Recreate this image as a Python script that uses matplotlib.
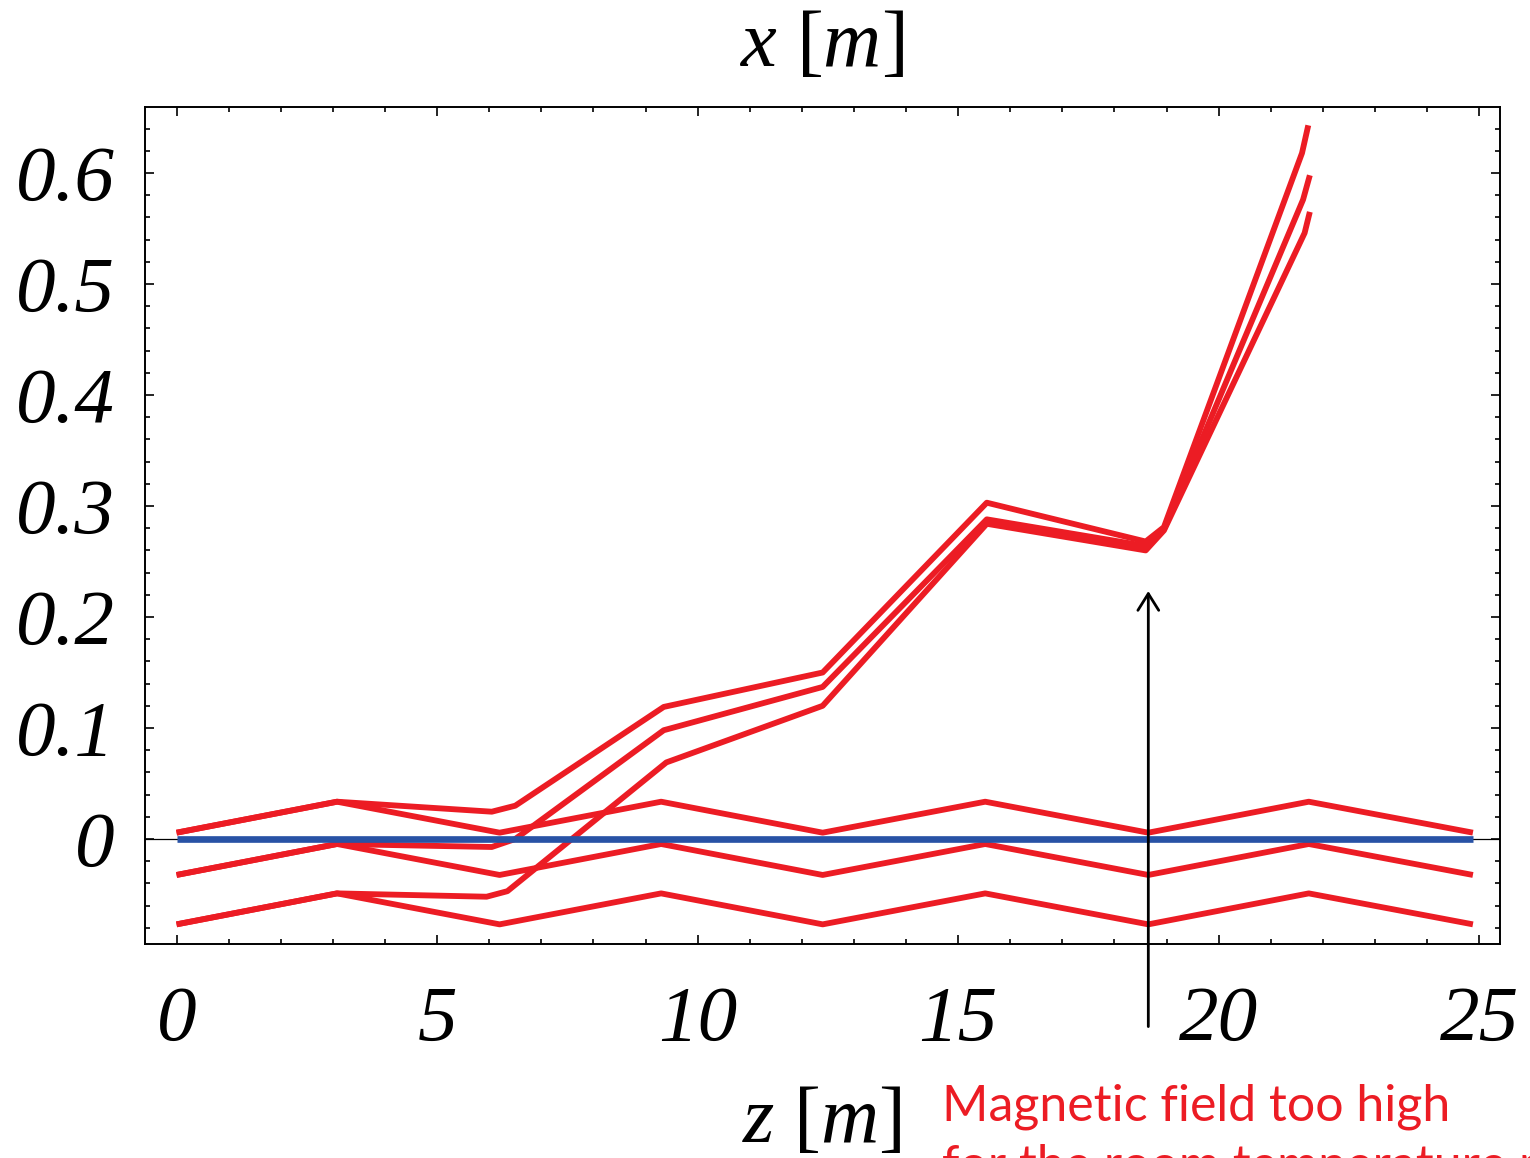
import matplotlib
matplotlib.use("Agg")
import matplotlib.pyplot as plt
from matplotlib.ticker import FixedLocator, FixedFormatter, MultipleLocator

plt.rcParams["mathtext.fontset"] = "custom"
plt.rcParams["mathtext.it"] = "Liberation Serif:italic"
plt.rcParams["mathtext.rm"] = "Liberation Serif"

# --- data ---
# reference (on-axis) trajectories: vertices at the quadrupoles
z_ref = [0.0, 3.08, 6.2, 9.3, 12.4, 15.52, 18.65, 21.73, 24.88]
x_ref_a = [0.0057, 0.0336, 0.0057, 0.0336, 0.0057, 0.0336, 0.0057, 0.0336, 0.0057]
x_ref_b = [-0.0324, -0.0045, -0.0324, -0.0045, -0.0324, -0.0045, -0.0324, -0.0045, -0.0324]
x_ref_c = [-0.0769, -0.049, -0.0769, -0.049, -0.0769, -0.049, -0.0769, -0.049, -0.0769]

# trajectories that get kicked away
z_kick_a = [0.0, 3.08, 6.05, 6.5, 9.35, 12.4, 15.55, 18.6, 18.95, 21.6, 21.72]
x_kick_a = [0.0057, 0.0336, 0.0246, 0.030, 0.119, 0.150, 0.303, 0.268, 0.281, 0.618, 0.643]
z_kick_b = [0.0, 3.08, 6.05, 6.5, 9.35, 12.4, 15.55, 18.6, 18.95, 21.62, 21.75]
x_kick_b = [-0.0324, -0.0045, -0.0072, 0.0, 0.098, 0.137, 0.288, 0.264, 0.279, 0.576, 0.598]
z_kick_c = [0.0, 3.08, 5.95, 6.35, 9.4, 12.4, 15.55, 18.6, 18.95, 21.65, 21.75]
x_kick_c = [-0.0769, -0.049, -0.052, -0.047, 0.069, 0.120, 0.284, 0.260, 0.278, 0.546, 0.565]

# design orbit
z_axis = [0.0, 24.88]
x_axis = [0.0, 0.0]

x_ticks = [0, 5, 10, 15, 20, 25]
x_tick_labels = ["0", "5", "10", "15", "20", "25"]
y_ticks = [0.0, 0.1, 0.2, 0.3, 0.4, 0.5, 0.6]
y_tick_labels = ["0", "0.1", "0.2", "0.3", "0.4", "0.5", "0.6"]

arrow_z = 18.65
arrow_from = -0.169
arrow_to = 0.2234

RED = "#ec1c24"
BLUE = "#2852a5"

fig = plt.figure(figsize=(15.3, 11.58), dpi=100)
ax = fig.add_axes([0.0948, 0.1848, 0.9804 - 0.0948, 0.9076 - 0.1848])

ax.axhline(0.0, color="black", lw=0.9, zorder=1)
for z, x in [(z_ref, x_ref_a), (z_ref, x_ref_b), (z_ref, x_ref_c),
             (z_kick_a, x_kick_a), (z_kick_b, x_kick_b), (z_kick_c, x_kick_c)]:
    ax.plot(z, x, color=RED, lw=4.2, solid_capstyle="butt", solid_joinstyle="round", zorder=2)
ax.plot(z_axis, x_axis, color=BLUE, lw=4.8, solid_capstyle="butt", zorder=3)

ax.set_xlim(-0.605, 25.40)
ax.set_ylim(-0.0946, 0.6595)

ax.xaxis.set_major_locator(FixedLocator(x_ticks))
ax.xaxis.set_major_formatter(FixedFormatter(x_tick_labels))
ax.xaxis.set_minor_locator(MultipleLocator(1))
ax.yaxis.set_major_locator(FixedLocator(y_ticks))
ax.yaxis.set_major_formatter(FixedFormatter(y_tick_labels))
ax.yaxis.set_minor_locator(MultipleLocator(0.02))

ax.tick_params(which="both", direction="in", top=True, right=True, width=1.2, color="black")
ax.tick_params(which="major", length=6.5)
ax.tick_params(which="minor", length=3.3)
ax.tick_params(axis="x", which="major", pad=30)
ax.tick_params(axis="y", which="major", pad=22)
for lab in ax.get_xticklabels() + ax.get_yticklabels():
    lab.set_fontfamily("Liberation Serif")
    lab.set_fontstyle("italic")
    lab.set_fontsize(57)
for sp in ax.spines.values():
    sp.set_linewidth(1.4)
    sp.set_color("black")

ax.annotate("", xy=(arrow_z, arrow_to), xytext=(arrow_z, arrow_from),
            arrowprops=dict(arrowstyle="->, head_length=0.4, head_width=0.25",
                            mutation_scale=30, lw=2.0, color="black",
                            shrinkA=0, shrinkB=0),
            annotation_clip=False, zorder=4)

fig.text(0.537, 0.9624, r"$x\ [m]$", fontsize=58, ha="center", va="center")
fig.text(0.537, 0.033, r"$z\ [m]$", fontsize=58, ha="center", va="center")

# the second line runs off the slide, as in the original
fig.text(0.6157, 1 - 1120 / 1158, "Magnetic field too high", color=RED,
         family="Lato", fontsize=36, ha="left", va="baseline")
fig.text(0.6157, 1 - 1180 / 1158, "for the room temperature magnets", color=RED,
         family="Lato", fontsize=36, ha="left", va="baseline")

fig.savefig("out.png", dpi=100)
